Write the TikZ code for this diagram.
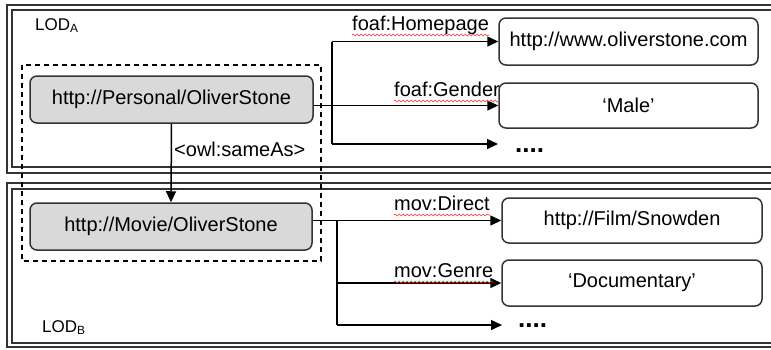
\documentclass[tikz,border=0pt]{standalone}
\usepackage{fontspec}
\setmainfont{Liberation Sans}
\usetikzlibrary{arrows.meta,decorations.pathmorphing}
\begin{document}
\begin{tikzpicture}[x=1pt,y=-1pt,
  frame/.style={draw=black!80,line width=1.3pt},
  gnode/.style={draw=black!80,line width=1.5pt,fill=black!15,rounded corners=7pt,
     minimum width=283pt,minimum height=47pt,inner sep=0pt,font=\fontsize{20}{23}\selectfont},
  wnode/.style={draw=black!80,line width=1.5pt,fill=white,rounded corners=7pt,
     minimum width=259pt,minimum height=46pt,inner sep=0pt,font=\fontsize{20}{23}\selectfont},
  lab/.style={inner sep=0pt,anchor=base west,font=\fontsize{20}{23}\selectfont},
  lod/.style={inner sep=0pt,anchor=base west,font=\fontsize{17}{20}\selectfont},
  arr/.style={line width=1.5pt,-{Triangle[length=11pt,width=10pt]}},
  ln/.style={line width=1.5pt},
  squig/.style={draw=red!80,line width=0.6pt,decorate,decoration={snake,segment length=4pt,amplitude=0.9pt}},
  dots/.style={inner sep=0pt,anchor=base west,font=\fontsize{26}{28}\selectfont\bfseries}
]
\useasboundingbox (0,0) rectangle (771,349);
\fill[white] (0,0) rectangle (771,349);
% frames
\draw[frame] (7,5) rectangle (800,173);
\draw[frame] (12,10) rectangle (800,167);
\draw[frame] (7,183) rectangle (800,347);
\draw[frame] (12,189) rectangle (800,343);
% LOD labels
\node[lod] (lodA) at (35,30) {LOD\textsubscript{A}};
\node[lod] (lodB) at (42,332) {LOD\textsubscript{B}};
% dashed group
\draw[line width=1.4pt,dash pattern=on 5pt off 4pt] (22,65) rectangle (321,261);
% main nodes
\node[gnode] (P) at (171.5,99.5) {http://Personal/OliverStone};
\node[gnode,minimum width=282pt] (M) at (171,226.5) {http://Movie/OliverStone};
% value boxes
\node[wnode,minimum height=47pt] (Home) at (628.5,41.5) {http://www.oliverstone.com};
\node[wnode,minimum height=45pt] (Male) at (628.5,105.5) {‘Male’};
\node[wnode,minimum width=260pt,minimum height=45pt] (Snow) at (632,220.5) {http://Film/Snowden};
\node[wnode,minimum width=260pt,minimum height=46pt] (Doc) at (632,283) {‘Documentary’};
% dots
\node[dots] (dotsA) at (515,152) {....};
\node[dots] (dotsB) at (518,327) {....};
% coordinates
\coordinate (jA) at (332,0);
\coordinate (tipA) at (498,144);
\coordinate (jB) at (337,0);
\coordinate (tipB) at (502,325);
% sameAs
\draw[arr] (P.south) -- (M.north);
\node[lab] (same) at (174,156) {<owl:sameAs>};
% top connectors
\draw[arr] (P.east |- Male.west) -- (Male.west);
\draw[ln] (jA |- Home.west) -- (jA |- tipA);
\draw[arr] (jA |- Home.west) -- (Home.west);
\draw[arr] (jA |- tipA) -- (tipA);
% bottom connectors
\draw[arr] (M.east |- Snow.west) -- (Snow.west);
\draw[ln] (jB |- Snow.west) -- (jB |- tipB);
\draw[arr] (jB |- Doc.west) -- (Doc.west);
\draw[arr] (jB |- tipB) -- (tipB);
% edge labels
\node[lab] (lHome) at (352,30) {foaf:Homepage};
\node[lab] (lGender) at (394,96) {foaf:Gender};
\node[lab] (lDirect) at (394,210) {mov:Direct};
\node[lab] (lGenre) at (394,277) {mov:Genre};
\foreach \l in {lHome,lGender,lDirect,lGenre}
  \draw[squig] ([yshift=-5pt]\l.base west) -- ([yshift=-5pt]\l.base east);
\end{tikzpicture}
\end{document}
